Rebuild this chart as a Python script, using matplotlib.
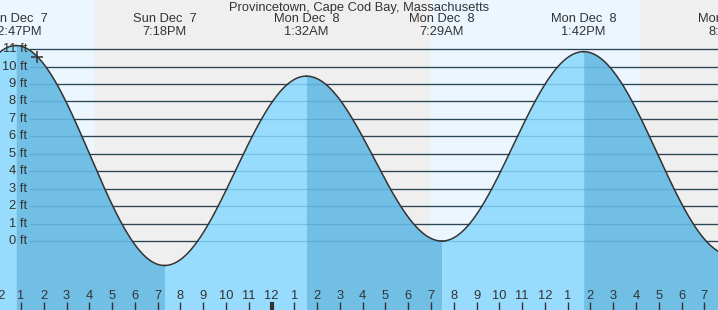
import matplotlib.pyplot as plt
import numpy as np

# tide extremes, hours after 1 PM Sun Dec 7, heights in ft
event_hours = [-6.5, -0.22, 6.30, 12.53, 18.48, 24.70, 31.17]
event_feet = [-1.0, 11.2, -1.4, 9.45, 0.0, 10.85, -0.8]
event_dates = ['Sun Dec  7', 'Sun Dec  7', 'Sun Dec  7', 'Mon Dec  8', 'Mon Dec  8', 'Mon Dec  8', 'Mon Dec  8']
event_times = ['6:30AM', '12:47PM', '7:18PM', '1:32AM', '7:29AM', '1:42PM', '8:10PM']

# daylight spans (hours after 1 PM Dec 7)
day_spans = [(-2.0, 3.16), (17.95, 27.13)]
now_hour = 0.72
midnight_hour = 11

title = 'Provincetown, Cape Cod Bay, Massachusetts'
ft_levels = list(range(0, 12))

x_min, x_max = -0.92, 30.6
y_min, y_max = -3.95, 13.81
fs = 9.3

plt.rcParams['font.family'] = ['Liberation Sans', 'DejaVu Sans']

fig = plt.figure(figsize=(7.18, 3.10), dpi=100)
ax = fig.add_axes([0, 0, 1, 1])
ax.set_xlim(x_min, x_max)
ax.set_ylim(y_min, y_max)
ax.axis('off')

# night background, then day spans
ax.axvspan(x_min, x_max, color='#efefef', zorder=0)
for a, b in day_spans:
    ax.axvspan(a, b, color='#ebf6ff', zorder=0.5)

# gridlines
ax.hlines(ft_levels, 0.35, x_max, color='#2a2a2a', lw=0.9, zorder=1)


def tide_at(t):
    t = np.asarray(t, dtype=float)
    out = np.zeros_like(t)
    for i in range(len(event_hours) - 1):
        t0, t1 = event_hours[i], event_hours[i + 1]
        h0, h1 = event_feet[i], event_feet[i + 1]
        m = (t >= t0) & (t <= t1)
        out[m] = h0 + (h1 - h0) * (1 - np.cos(np.pi * (t[m] - t0) / (t1 - t0))) / 2
    return out


for i in range(len(event_hours) - 1):
    t0, t1 = event_hours[i], event_hours[i + 1]
    tt = np.linspace(t0, t1, 200)
    hh = tide_at(tt)
    col = '#97dcfc' if event_feet[i + 1] > event_feet[i] else '#71bfe5'
    ax.fill_between(tt, y_min, hh, color=col, lw=0, zorder=2)
    ax.plot(tt, hh, color='#333333', lw=1.1, zorder=4)

# lines seen through the water
ax.hlines(ft_levels, 0.35, x_max, color='#2f85bb', lw=0.9, alpha=0.3, zorder=3)

for f in ft_levels:
    ax.text(0.27, f, f'{f} ft', ha='right', va='center', fontsize=fs, color='#333333', zorder=5)

# current time marker
ax.plot([now_hour], tide_at([now_hour]), marker='+', ms=8, mew=1.1, color='#333333', zorder=6)

# bottom hour ticks
trans = ax.get_xaxis_transform()
for h in range(-1, 31):
    label = (12 + h) % 12 + 1
    lw = 3 if h == midnight_hour else 1
    ax.plot([h, h], [0, 0.026], transform=trans, color='#333333', lw=lw, zorder=6, solid_capstyle='butt')
    ax.text(h, 0.045, str(label), transform=trans, ha='center', va='center', fontsize=fs, color='#333333', zorder=6)

# title and event labels
fig.text(0.5, 1 - 8 / 310, title, ha='center', va='center', fontsize=fs, color='#333333')
for h, d, tm in zip(event_hours, event_dates, event_times):
    if x_min - 3 < h < x_max + 3:
        ax.text(h, 1 - 19 / 310, d, transform=trans, ha='center', va='center', fontsize=fs, color='#333333', zorder=6)
        ax.text(h, 1 - 32 / 310, tm, transform=trans, ha='center', va='center', fontsize=fs, color='#333333', zorder=6)

fig.savefig('out.png', dpi=100)
